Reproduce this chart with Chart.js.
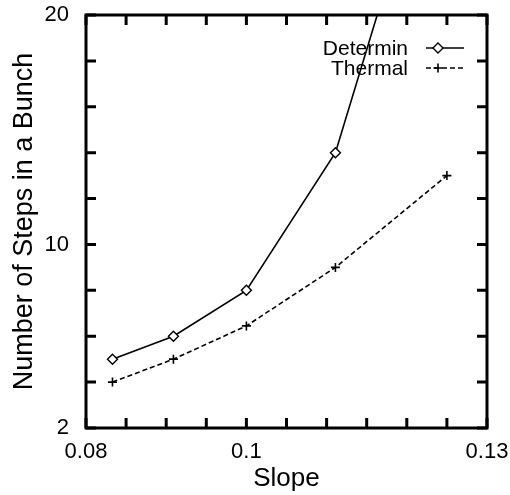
<!DOCTYPE html>
<html>
<head>
<meta charset="utf-8">
<script src="https://cdn.jsdelivr.net/npm/chart.js@4.4.1/dist/chart.umd.min.js"></script>
<style>
  html, body { margin: 0; padding: 0; background: #ffffff; }
  #contenedor { width: 510px; height: 495px; }
</style>
</head>
<body>
<div id="contenedor"><canvas id="canvas_bunch"></canvas></div>
<script>
// 1. Datos
const pendientes = [0.0833, 0.0909, 0.1, 0.1111, 0.125];
const pasos_determin = [5, 6, 8, 14, 30];
const pasos_thermal = [4, 5, 6.45, 9, 13];
const etiquetas_x = [0.08, 0.1, 0.13];
const etiquetas_y = [2, 10, 20];
const nombres_series = ['Determin', 'Thermal'];

const fuente = "'Liberation Sans', Arial, Helvetica, sans-serif";

function a_puntos(xs, ys) {
    return xs.map(function(x, i) { return { x: x, y: ys[i] }; });
}

function es_etiqueta(valor, lista) {
    return lista.some(function(v) { return Math.abs(v - valor) < 1e-9; });
}

// sin relleno extra por las etiquetas que sobresalen
function sin_relleno(scale) {
    scale.paddingLeft = 0;
    scale.paddingRight = 0;
    scale.paddingTop = 0;
    scale.paddingBottom = 0;
}

// 2. Marco grueso, ticks hacia dentro en los cuatro lados y leyenda estilo gnuplot
const plugin_marco = {
    id: 'marco',
    afterDatasetsDraw: function(chart) {
        const ctx = chart.ctx;
        const a = chart.chartArea;
        const sx = chart.scales.x;
        const sy = chart.scales.y;
        const largo = 10;

        ctx.save();
        ctx.strokeStyle = '#000000';
        ctx.lineWidth = 3;
        ctx.beginPath();
        sx.ticks.forEach(function(t, i) {
            const px = sx.getPixelForTick(i);
            ctx.moveTo(px, a.bottom); ctx.lineTo(px, a.bottom - largo);
            ctx.moveTo(px, a.top); ctx.lineTo(px, a.top + largo);
        });
        sy.ticks.forEach(function(t, i) {
            const py = sy.getPixelForTick(i);
            ctx.moveTo(a.left, py); ctx.lineTo(a.left + largo, py);
            ctx.moveTo(a.right, py); ctx.lineTo(a.right - largo, py);
        });
        ctx.stroke();
        ctx.strokeRect(a.left, a.top, a.right - a.left, a.bottom - a.top);

        // leyenda: texto a la derecha, muestra de línea y marcador
        ctx.font = '21px ' + fuente;
        ctx.textAlign = 'right';
        ctx.textBaseline = 'middle';
        chart.data.datasets.forEach(function(ds, i) {
            const y = a.top + 33 + i * 20;
            ctx.fillStyle = '#000000';
            ctx.fillText(ds.label, a.right - 79, y + 1);
            ctx.lineWidth = ds.borderWidth;
            ctx.setLineDash(ds.borderDash || []);
            ctx.beginPath();
            ctx.moveTo(a.right - 61, y);
            ctx.lineTo(a.right - 23, y);
            ctx.stroke();
            ctx.setLineDash([]);
            ctx.fillStyle = ds.pointBackgroundColor;
            ctx.lineWidth = ds.pointBorderWidth;
            Chart.helpers.drawPoint(ctx, {
                pointStyle: ds.pointStyle,
                radius: ds.pointRadius,
                rotation: 0,
                borderWidth: ds.pointBorderWidth
            }, a.right - 49, y);
        });
        ctx.restore();
    }
};

// 3. Gráfica
new Chart(document.getElementById('canvas_bunch'), {
    type: 'scatter',
    data: {
        datasets: [{
            label: nombres_series[0],
            data: a_puntos(pendientes, pasos_determin),
            showLine: true,
            borderColor: '#000000',
            borderWidth: 1.6,
            pointStyle: 'rectRot',
            pointRadius: 5,
            pointBackgroundColor: '#ffffff',
            pointBorderColor: '#000000',
            pointBorderWidth: 1.4
        }, {
            label: nombres_series[1],
            data: a_puntos(pendientes, pasos_thermal),
            showLine: true,
            borderColor: '#000000',
            borderWidth: 1.6,
            borderDash: [5, 3],
            pointStyle: 'cross',
            pointRadius: 4.5,
            pointBackgroundColor: '#ffffff',
            pointBorderColor: '#000000',
            pointBorderWidth: 1.6
        }]
    },
    options: {
        responsive: true,
        maintainAspectRatio: false,
        animation: false,
        layout: { padding: { top: 15, right: 23, left: 0, bottom: 0 } },
        plugins: {
            legend: { display: false },
            tooltip: { enabled: false }
        },
        scales: {
            x: {
                type: 'linear',
                min: 0.08,
                max: 0.13,
                grid: { display: false, drawTicks: false },
                border: { display: false },
                ticks: {
                    stepSize: 0.005,
                    autoSkip: false,
                    maxRotation: 0,
                    padding: 11,
                    color: '#000000',
                    font: { family: fuente, size: 22 },
                    callback: function(v) { return es_etiqueta(v, etiquetas_x) ? String(+v.toFixed(3)) : ''; }
                },
                title: {
                    display: true,
                    text: 'Slope',
                    color: '#000000',
                    font: { family: fuente, size: 26 },
                    padding: { top: 0, bottom: 1 }
                },
                afterFit: function(scale) { scale.height = 67; sin_relleno(scale); }
            },
            y: {
                type: 'linear',
                min: 2,
                max: 20,
                grid: { display: false, drawTicks: false },
                border: { display: false },
                ticks: {
                    stepSize: 2,
                    autoSkip: false,
                    padding: 17,
                    color: '#000000',
                    font: { family: fuente, size: 22 },
                    callback: function(v) { return es_etiqueta(v, etiquetas_y) ? String(v) : ''; }
                },
                title: {
                    display: true,
                    text: 'Number of Steps in a Bunch',
                    color: '#000000',
                    font: { family: fuente, size: 27 },
                    padding: { top: 8, bottom: 0 }
                },
                afterFit: function(scale) { scale.width = 86; sin_relleno(scale); }
            }
        }
    },
    plugins: [plugin_marco]
});
</script>
</body>
</html>
